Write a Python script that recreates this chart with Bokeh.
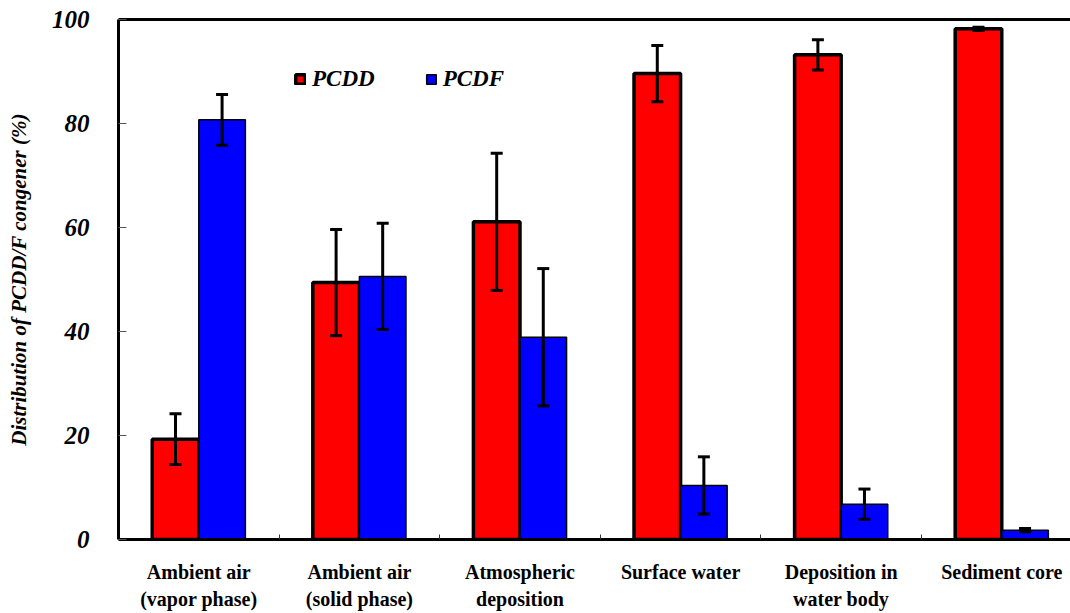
from bokeh.plotting import figure
from bokeh.models import (ColumnDataSource, Range1d, FixedTicker, Whisker, TeeHead,
                          LinearAxis, Legend, LegendItem)
from bokeh.embed import file_html
from bokeh.resources import INLINE

categories = ["Ambient air\n(vapor phase)", "Ambient air\n(solid phase)", "Atmospheric\ndeposition",
              "Surface water", "Deposition in\nwater body", "Sediment core"]
pcdd = [19.3, 49.4, 61.1, 89.6, 93.2, 98.2]
pcdd_err = [4.9, 10.2, 13.2, 5.4, 2.9, 0.3]
pcdf = [80.7, 50.6, 38.9, 10.4, 6.8, 1.8]
pcdf_err = [4.9, 10.2, 13.2, 5.5, 2.9, 0.3]
y_ticks = [0, 20, 40, 60, 80, 100]

centers = [i + 0.5 for i in range(len(categories))]
off = 0.145
bw = 0.29

src_d = ColumnDataSource(dict(x=[c - off for c in centers], top=pcdd,
                              upper=[v + e for v, e in zip(pcdd, pcdd_err)],
                              lower=[v - e for v, e in zip(pcdd, pcdd_err)]))
src_f = ColumnDataSource(dict(x=[c + off for c in centers], top=pcdf,
                              upper=[v + e for v, e in zip(pcdf, pcdf_err)],
                              lower=[v - e for v, e in zip(pcdf, pcdf_err)]))

p = figure(width=1070, height=613, output_backend="svg", toolbar_location=None,
           x_range=Range1d(0, 5.928), y_range=Range1d(0, 100),
           min_border_left=118, min_border_right=0, min_border_top=19, min_border_bottom=73)
p.outline_line_color = None
p.grid.visible = False
p.background_fill_color = "white"
p.border_fill_color = "white"

r_d = p.vbar(x="x", top="top", width=bw, source=src_d, fill_color="#FF0000",
             line_color="black", line_width=3.5)
r_f = p.vbar(x="x", top="top", width=bw, source=src_f, fill_color="#0000FF",
             line_color="black", line_width=1.5)

for s in (src_d, src_f):
    w = Whisker(base="x", upper="upper", lower="lower", source=s, line_width=3, line_color="black",
                upper_head=TeeHead(size=12, line_width=3, line_color="black"),
                lower_head=TeeHead(size=12, line_width=3, line_color="black"),
                level="overlay")
    p.add_layout(w)

font = "Liberation Serif"

xa = p.xaxis[0]
xa.ticker = FixedTicker(ticks=centers, minor_ticks=[1, 2, 3, 4, 5])
xa.major_label_overrides = {c: lab for c, lab in zip(centers, categories)}
xa.major_tick_in = 0
xa.major_tick_out = 0
xa.minor_tick_in = 5
xa.minor_tick_out = 0
xa.minor_tick_line_color = "#333333"
xa.axis_line_width = 3
xa.axis_line_color = "black"
xa.major_label_text_font = font
xa.major_label_text_font_style = "bold"
xa.major_label_text_font_size = "20px"
xa.major_label_text_color = "black"
xa.major_label_text_line_height = 1.25
xa.major_label_standoff = 21

ya = p.yaxis[0]
ya.ticker = FixedTicker(ticks=y_ticks)
ya.major_tick_in = 8
ya.major_tick_out = 0
ya.minor_tick_in = 0
ya.minor_tick_out = 0
ya.major_tick_line_color = "#555555"
ya.axis_line_width = 3
ya.axis_line_color = "black"
ya.major_label_text_font = font
ya.major_label_text_font_style = "bold italic"
ya.major_label_text_font_size = "25px"
ya.major_label_text_color = "black"
ya.major_label_standoff = 29
ya.axis_label = "Distribution of PCDD/F congener (%)"
ya.axis_label_text_font = font
ya.axis_label_text_font_style = "bold italic"
ya.axis_label_text_font_size = "21px"
ya.axis_label_text_color = "black"
ya.axis_label_standoff = 18

top_axis = LinearAxis(ticker=FixedTicker(ticks=[]), major_tick_in=0, major_tick_out=0,
                      minor_tick_in=0, minor_tick_out=0, major_label_text_font_size="0px",
                      axis_line_width=3, axis_line_color="black")
p.add_layout(top_axis, "above")

legend = Legend(items=[LegendItem(label="PCDD", renderers=[r_d]),
                       LegendItem(label="PCDF", renderers=[r_f])],
                orientation="horizontal", location=(176, 447),
                label_text_font=font, label_text_font_style="bold italic",
                label_text_font_size="23px", label_text_color="black",
                glyph_width=12, glyph_height=12,
                label_standoff=6, spacing=50, padding=0, margin=0,
                border_line_color=None, background_fill_alpha=0, label_height=22)
p.add_layout(legend)

open("out.html", "w").write(file_html(p, INLINE))
